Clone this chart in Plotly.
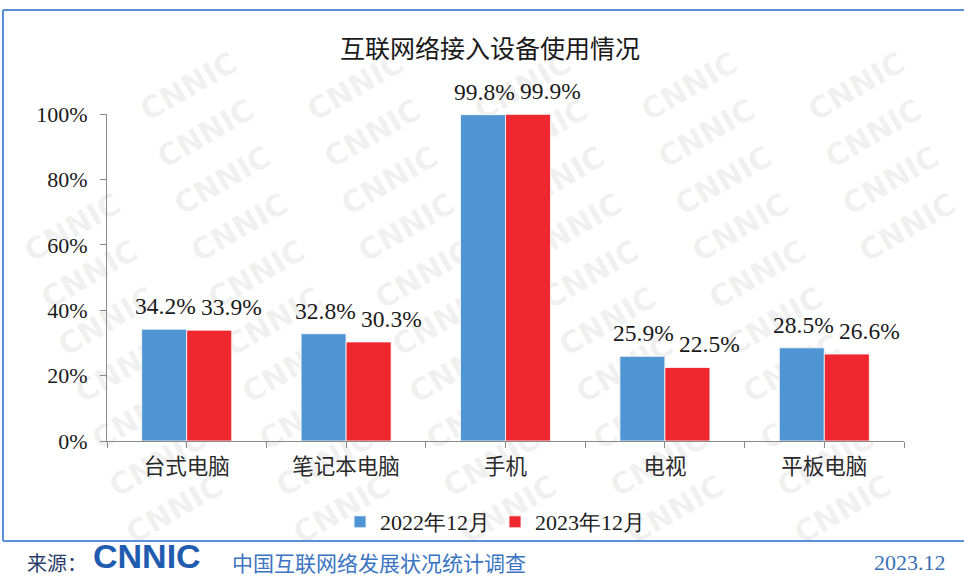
import plotly.graph_objects as go

# ---- data ----
categories = ["台式电脑", "笔记本电脑", "手机", "电视", "平板电脑"]
series_names = ["2022年12月", "2023年12月"]
values_2022 = [34.2, 32.8, 99.8, 25.9, 28.5]
values_2023 = [33.9, 30.3, 99.9, 22.5, 26.6]
y_ticks = [0, 20, 40, 60, 80, 100]
title_text = "互联网络接入设备使用情况"
source_label = "来源："
source_logo = "CNNIC"
source_text = "中国互联网络发展状况统计调查"
date_text = "2023.12"
watermark_text = "CNNIC"

# ---- layout geometry (pixels -> paper) ----
W, H = 964, 576
PL, PR, PT, PB = 107, 904, 114, 441


def px(x):
    return (x - PL) / (PR - PL)


def py(y):
    return (PB - y) / (PB - PT)


BLUE = "#4f95d3"
RED = "#ee282e"
FRAME = "#5b8fd6"
SERIF = "Liberation Serif"
CJK = "Noto Sans CJK SC"

idx = list(range(len(categories)))

fig = go.Figure()
fig.add_trace(go.Bar(x=idx, y=[v / 100 for v in values_2022], name=series_names[0],
                     marker=dict(color=BLUE, line=dict(width=0.8, color="white"))))
fig.add_trace(go.Bar(x=idx, y=[v / 100 for v in values_2023], name=series_names[1],
                     marker=dict(color=RED, line=dict(width=0.8, color="white"))))

# tick positions: category centres and boundaries
tickvals, ticktext = [], []
for i, c in enumerate(categories):
    tickvals += [i - 0.5, i]
    ticktext += ["", c]
tickvals.append(len(categories) - 0.5)
ticktext.append("")

annotations = []
# data labels
for vals, shift in ((values_2022, -21), (values_2023, 45)):
    for i, v in enumerate(vals):
        annotations.append(dict(x=i, y=v / 100, xref="x", yref="y", text=f"{v:.1f}%",
                                showarrow=False, xshift=shift, yshift=8, yanchor="bottom",
                                font=dict(family=SERIF, size=23.5, color="#1a1a1a")))

# title
annotations.append(dict(x=px(490), y=py(47), xref="paper", yref="paper", text=title_text,
                        showarrow=False, xanchor="center", yanchor="middle",
                        font=dict(family=CJK, size=25, color="#1a1a1a")))
# footer
annotations.append(dict(x=px(25), y=py(562), xref="paper", yref="paper", text=source_label,
                        showarrow=False, xanchor="left", yanchor="middle",
                        font=dict(family=CJK, size=20, color="#2c3d6b")))
annotations.append(dict(x=px(92), y=py(576), xref="paper", yref="paper", text=source_logo,
                        showarrow=False, xanchor="left", yanchor="bottom", borderpad=0,
                        font=dict(family="Liberation Sans", size=34, color="#1f5cb0", weight="bold")))
annotations.append(dict(x=px(230), y=py(562), xref="paper", yref="paper", text=source_text,
                        showarrow=False, xanchor="left", yanchor="middle",
                        font=dict(family=CJK, size=21, color="#3a74c2")))
annotations.append(dict(x=px(948), y=py(562), xref="paper", yref="paper", text=date_text,
                        showarrow=False, xanchor="right", yanchor="middle",
                        font=dict(family=SERIF, size=22, color="#3a6fb5")))

shapes = []
# watermark (decorative, behind the bars): diagonal columns of the logo text
for c in range(-3, 6):
    for r in range(0, 12):
        cx = 170 + 167 * c + 17 * r
        cy = 37 + 47 * r
        if not (58 <= cx <= 906 and 42 <= cy <= 534):
            continue
        shapes.append(dict(type="rect", xref="paper", yref="paper",
                           x0=px(cx), x1=px(cx + 1), y0=py(cy), y1=py(cy + 1),
                           line=dict(width=0), fillcolor="rgba(0,0,0,0)", layer="below",
                           label=dict(text=watermark_text, textangle=-30, textposition="middle center",
                                      font=dict(family="DejaVu Sans", size=30,
                                                color="rgba(150,140,140,0.12)", weight="bold"))))
# frame lines
shapes.append(dict(type="line", xref="paper", yref="paper", x0=px(3), x1=px(W), y0=py(10), y1=py(10),
                   line=dict(color=FRAME, width=2)))
shapes.append(dict(type="line", xref="paper", yref="paper", x0=px(3), x1=px(3), y0=py(10), y1=py(541),
                   line=dict(color=FRAME, width=2)))
shapes.append(dict(type="line", xref="paper", yref="paper", x0=px(3), x1=px(W), y0=py(541), y1=py(541),
                   line=dict(color=FRAME, width=2)))

fig.update_layout(
    width=W, height=H,
    margin=dict(l=PL, r=W - PR, t=PT, b=H - PB, pad=0, autoexpand=False),
    paper_bgcolor="white", plot_bgcolor="rgba(0,0,0,0)",
    barmode="group", bargap=0.435, bargroupgap=0,
    showlegend=True,
    legend=dict(orientation="h", x=px(495), xanchor="center", y=py(522), yanchor="middle",
                font=dict(family=SERIF, size=22, color="#1a1a1a"), bgcolor="rgba(0,0,0,0)",
                itemwidth=30, tracegroupgap=0),
    xaxis=dict(range=[-0.5, len(categories) - 0.5], tickmode="array", tickvals=tickvals,
               ticktext=ticktext, ticks="outside", ticklen=6, tickcolor="#8a8a8a",
               showline=True, linecolor="#8a8a8a", linewidth=1, showgrid=False, zeroline=False,
               tickfont=dict(family=CJK, size=21.5, color="#2a2a2a"), fixedrange=True),
    yaxis=dict(range=[0, 1], tickmode="array", tickvals=[t / 100 for t in y_ticks],
               ticktext=[f"{t}%" for t in y_ticks], ticks="outside", ticklen=6, tickcolor="#8a8a8a",
               ticklabelstandoff=8,
               showline=True, linecolor="#8a8a8a", linewidth=1, showgrid=False, zeroline=False,
               tickfont=dict(family=SERIF, size=22, color="#1a1a1a"), fixedrange=True),
    annotations=annotations,
    shapes=shapes,
)

fig.write_html("out.html", config={"displayModeBar": False},
               post_script="document.body.style.margin='0';document.body.style.overflow='hidden';")
